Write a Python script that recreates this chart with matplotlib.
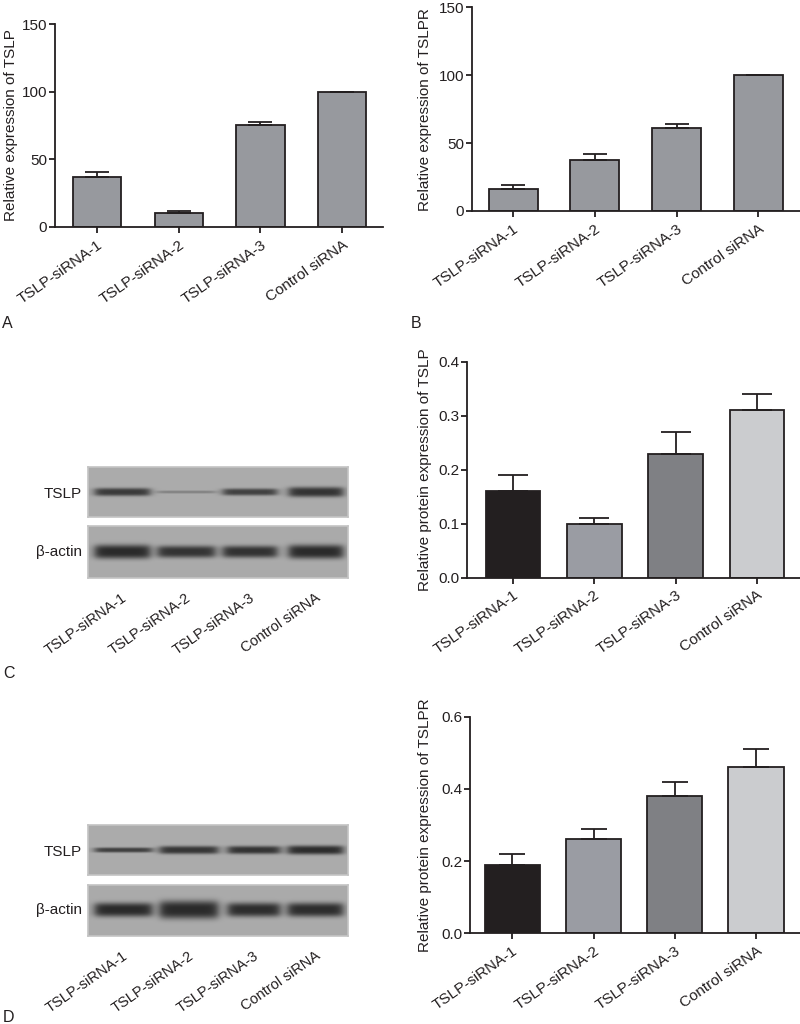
import numpy as np
import matplotlib
matplotlib.use('Agg')
import matplotlib.pyplot as plt

plt.rcParams['font.family'] = ['Liberation Sans', 'DejaVu Sans']
plt.rcParams['font.size'] = 11

groups = ['TSLP-siRNA-1', 'TSLP-siRNA-2', 'TSLP-siRNA-3', 'Control siRNA']

# A: relative mRNA expression of TSLP
tslp_mrna = [37, 10, 75, 100]
tslp_mrna_err = [4, 2, 2.5, 0]
# B: relative mRNA expression of TSLPR
tslpr_mrna = [16.5, 37.5, 61, 100]
tslpr_mrna_err = [2.3, 4.5, 2.8, 0]
# C: relative protein expression of TSLP
tslp_prot = [0.16, 0.10, 0.23, 0.31]
tslp_prot_err = [0.03, 0.01, 0.04, 0.03]
# D: relative protein expression of TSLPR
tslpr_prot = [0.19, 0.26, 0.38, 0.46]
tslpr_prot_err = [0.03, 0.03, 0.04, 0.05]

ticks_mrna = [0, 50, 100, 150]
ticks_c = [0.0, 0.1, 0.2, 0.3, 0.4]
ticks_d = [0.0, 0.2, 0.4, 0.6]

# western blot bands, per lane: darkness (0-1) and half thickness (px)
blot_c_tslp = [0.85, 0.3, 0.8, 0.9]
blot_c_tslp_h = [4, 1.5, 3.5, 5]
blot_c_actin = [0.97, 0.9, 0.92, 0.97]
blot_c_actin_h = [7, 6, 6, 7]
blot_d_tslp = [0.8, 0.88, 0.9, 0.95]
blot_d_tslp_h = [2.5, 4, 4, 4.5]
blot_d_actin = [0.97, 0.97, 0.95, 0.95]
blot_d_actin_h = [7, 9, 7, 7]

dark = '#231f20'
gray_bar = '#97999e'
prot_colors = ['#231f20', '#9a9ca3', '#7f8084', '#cbcccf']

W, H = 800, 1024
fig = plt.figure(figsize=(W / 100, H / 100), dpi=100)


def px_axes(x0, y0, x1, y1):
    return fig.add_axes([x0 / W, 1 - y1 / H, (x1 - x0) / W, (y1 - y0) / H])


def bar_panel(ax, vals, errs, colors, ticks, ticklabels, ylabel, width, xlim, cap, labx):
    x = np.arange(len(groups))
    ax.bar(x, vals, width=width, color=colors, edgecolor=dark, linewidth=1.3, zorder=2)
    ax.errorbar(x, vals, yerr=[np.zeros(len(errs)), errs], fmt='none', ecolor=dark,
                elinewidth=1.3, capsize=cap, capthick=1.3, zorder=3)
    ax.set_xlim(xlim)
    ax.set_ylim(ticks[0], ticks[-1])
    ax.set_yticks(ticks)
    ax.set_yticklabels(ticklabels)
    ax.set_xticks(x)
    ax.set_xticklabels(groups, rotation=35, ha='right', rotation_mode='anchor')
    ax.spines[['top', 'right']].set_visible(False)
    for s in ['left', 'bottom']:
        ax.spines[s].set_linewidth(1.3)
        ax.spines[s].set_color(dark)
    ax.tick_params(direction='out', length=4, width=1.3, color=dark, labelsize=11,
                   labelcolor=dark)
    ax.tick_params(axis='y', pad=1.5)
    ax.set_ylabel(ylabel, fontsize=11, color=dark)
    ax.yaxis.set_label_coords(labx, 0.5)
    ax.set_facecolor('none')


def blot_strip(ax, lanes, strength, half_h, w, h):
    xs = np.arange(w) + 0.5
    ys = np.arange(h) + 0.5
    X, Y = np.meshgrid(xs, ys)
    img = np.full(X.shape, 0.67)
    yc = h / 2
    for (l0, l1), s, hh in zip(lanes, strength, half_h):
        mx = 1 / (1 + np.exp(-(X - l0) / 2.5)) / (1 + np.exp((X - l1) / 2.5))
        my = np.exp(-np.abs((Y - yc) / hh) ** 3)
        img -= s * 0.52 * mx * my
    ax.imshow(img, cmap='gray', vmin=0, vmax=1, extent=(0, w, h, 0), aspect='auto',
              interpolation='bilinear')
    ax.set_xticks([])
    ax.set_yticks([])
    for s in ax.spines.values():
        s.set_color('#c4c4c4')
        s.set_linewidth(1.2)


# A
axA = px_axes(55, 24, 383, 227)
bar_panel(axA, tslp_mrna, tslp_mrna_err, gray_bar, ticks_mrna, [str(t) for t in ticks_mrna],
          'Relative expression of TSLP', 0.59, (-0.514, 3.5), 8.3, -0.113)
# B
axB = px_axes(471.7, 7.3, 800, 211)
bar_panel(axB, tslpr_mrna, tslpr_mrna_err, gray_bar, ticks_mrna, [str(t) for t in ticks_mrna],
          'Relative expression of TSLPR', 0.6, (-0.506, 3.51), 8.3, -0.121)
# C chart
axC = px_axes(466.7, 361.7, 800, 577.7)
bar_panel(axC, tslp_prot, tslp_prot_err, prot_colors, ticks_c, ['%.1f' % t for t in ticks_c],
          'Relative protein expression of TSLP', 0.67, (-0.57, 3.53), 10.8, -0.104)
# D chart
axD = px_axes(470, 716.7, 800, 933.3)
bar_panel(axD, tslpr_prot, tslpr_prot_err, prot_colors, ticks_d, ['%.1f' % t for t in ticks_d],
          'Relative protein expression of TSLPR', 0.68, (-0.52, 3.54), 9.7, -0.116)

# blots (lane spans in px relative to the strip's left edge at x=88)
lanes_c = [(7, 62), (70, 127), (135, 189), (201, 255)]
lanes_d = [(7, 64), (72, 130), (140, 192), (200, 255)]

for top, lanes, tslp, tslp_h, actin, actin_h in [
        (466.7, lanes_c, blot_c_tslp, blot_c_tslp_h, blot_c_actin, blot_c_actin_h),
        (825, lanes_d, blot_d_tslp, blot_d_tslp_h, blot_d_actin, blot_d_actin_h)]:
    ax1 = px_axes(88, top, 348, top + 50)
    blot_strip(ax1, lanes, tslp, tslp_h, 260, 50)
    ax2 = px_axes(88, top + 59.5, 348, top + 111)
    blot_strip(ax2, lanes, actin, actin_h, 260, 51.5)
    fig.text(82 / W, 1 - (top + 27) / H, 'TSLP', ha='right', va='center', fontsize=11, color=dark)
    fig.text(82 / W, 1 - (top + 85) / H, 'β-actin', ha='right', va='center', fontsize=11, color=dark)
    for (l0, l1), name in zip(lanes, groups):
        ax2.text((l0 + l1) / 2 - 1, 51.5 + 13, name, rotation=35, ha='right', va='top',
                 rotation_mode='anchor', fontsize=10.5, color=dark)

# panel letters
for letter, x, y in [('A', 2, 328), ('B', 411, 328), ('C', 3, 678), ('D', 3, 1022)]:
    fig.text(x / W, 1 - y / H, letter, ha='left', va='baseline', fontsize=11.5, color=dark)

fig.savefig('out.png', dpi=100)
